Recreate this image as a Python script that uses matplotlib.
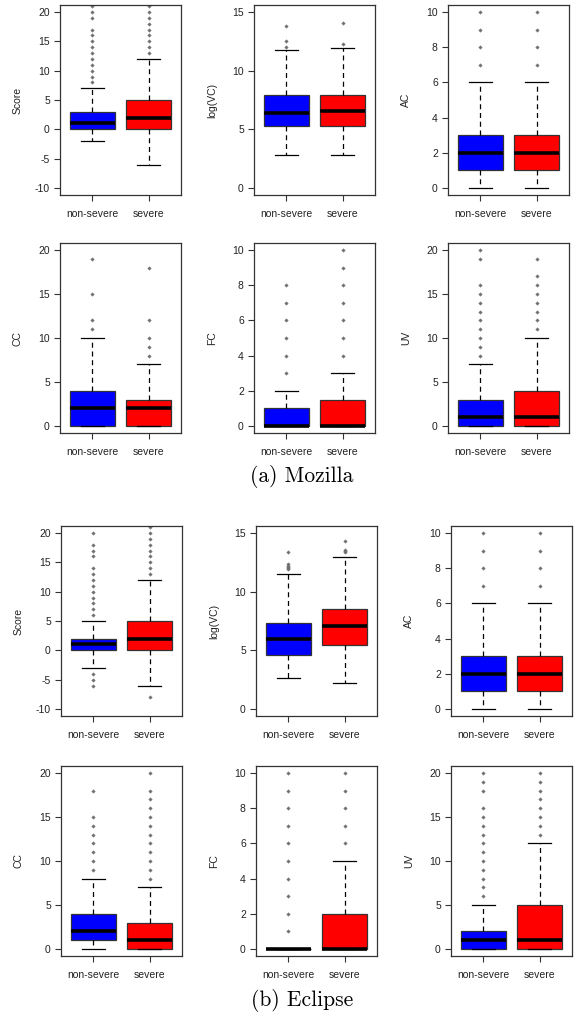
import matplotlib
matplotlib.use("Agg")
import matplotlib.pyplot as plt

# panels, in reading order
metrics = ['Score', 'log(VC)', 'AC', 'CC', 'FC', 'UV']
groups = ['non-severe', 'severe']
base_lims = [(-10, 20), (0, 15), (0, 10), (0, 20), (0, 10), (0, 20)]
yticks = [[-10, -5, 0, 5, 10, 15, 20], [0, 5, 10, 15], [0, 2, 4, 6, 8, 10],
          [0, 5, 10, 15, 20], [0, 2, 4, 6, 8, 10], [0, 5, 10, 15, 20]]

# Mozilla  ([non-severe, severe] for each metric)
moz_q1 = [[0, 0], [5.25, 5.25], [1, 1], [0, 0], [0, 0], [0, 0]]
moz_med = [[1, 2], [6.42, 6.53], [2, 2], [2, 2], [0, 0], [1, 1]]
moz_q3 = [[3, 5], [7.9, 7.96], [3, 3], [4, 3], [1, 1.5], [3, 4]]
moz_lo = [[-2, -6], [2.82, 2.82], [0, 0], [0, 0], [0, 0], [0, 0]]
moz_hi = [[7, 12], [11.8, 11.9], [6, 6], [10, 7], [2, 3], [7, 10]]
moz_fl_ns = [[8, 9, 10, 11, 12, 13, 14, 15, 16, 17, 19, 20, 21],
             [12.03, 12.55, 13.77],
             [7, 8, 9, 10],
             [11, 12, 15, 19],
             [3, 4, 5, 6, 7, 8],
             [8, 9, 10, 11, 12, 13, 14, 15, 16, 19, 20]]
moz_fl_sev = [[13, 14, 15, 16, 17, 18, 19, 20, 21],
              [12.26, 14.03],
              [7, 8, 9, 10],
              [8, 9, 10, 12, 18],
              [4, 5, 6, 7, 8, 9, 10],
              [11, 12, 13, 14, 15, 16, 17, 19]]

# Eclipse
ecl_q1 = [[0, 0], [4.63, 5.47], [1, 1], [1, 0], [0, 0], [0, 0]]
ecl_med = [[1, 2], [5.93, 7.11], [2, 2], [2, 1], [0, 0], [1, 1]]
ecl_q3 = [[2, 5], [7.32, 8.56], [3, 3], [4, 3], [0, 2], [2, 5]]
ecl_lo = [[-3, -6], [2.66, 2.24], [0, 0], [0, 0], [0, 0], [0, 0]]
ecl_hi = [[5, 12], [11.5, 12.97], [6, 6], [8, 7], [0, 5], [5, 12]]
ecl_fl_ns = [[-6, -5, -4, 6, 7, 8, 9, 10, 11, 12, 13, 14, 16, 17, 18, 20],
             [11.9, 12.0, 12.1, 12.2, 12.4, 13.37],
             [7, 8, 9, 10],
             [9, 10, 11, 12, 13, 14, 15, 18],
             [1, 2, 3, 4, 5, 6, 7, 8, 9, 10],
             [6, 7, 8, 9, 10, 11, 12, 13, 14, 15, 16, 18, 19, 20]]
ecl_fl_sev = [[-8, 13, 14, 15, 16, 17, 18, 19, 20, 21],
              [13.35, 13.43, 13.57, 14.28],
              [7, 8, 9, 10],
              [8, 9, 10, 11, 12, 13, 14, 15, 16, 17, 18, 20],
              [6, 7, 8, 9, 10],
              [13, 14, 15, 16, 17, 18, 19, 20]]

plt.rcParams['font.family'] = ['Liberation Sans', 'DejaVu Sans']
plt.rcParams['axes.unicode_minus'] = False

W, H = 579, 1019
fig = plt.figure(figsize=(W / 100, H / 100), dpi=100)
fig.patch.set_facecolor('white')

PW, PH = 121, 190  # panel size in px


def stats_for(q1, med, q3, lo, hi, fl_ns, fl_sev, i):
    out = []
    for g, fl in enumerate([fl_ns[i], fl_sev[i]]):
        out.append(dict(q1=q1[i][g], med=med[i][g], q3=q3[i][g],
                        whislo=lo[i][g], whishi=hi[i][g], fliers=fl))
    return out


def draw_panel(ax, stats, i):
    b = ax.bxp(stats, positions=[1, 2], widths=0.8, capwidths=0.4,
               patch_artist=True,
               boxprops=dict(edgecolor='#333333', linewidth=0.9),
               medianprops=dict(color='black', linewidth=2.6, solid_capstyle='butt'),
               whiskerprops=dict(color='black', linewidth=0.9, linestyle=(0, (4, 3))),
               capprops=dict(color='black', linewidth=0.9),
               flierprops=dict(marker='D', markersize=1.8, markerfacecolor='#707070',
                               markeredgecolor='#707070', markeredgewidth=0.3))
    for patch, c in zip(b['boxes'], ['#0000ff', '#ff0000']):
        patch.set_facecolor(c)
    lo, hi = base_lims[i]
    r = hi - lo
    ax.set_ylim(lo - 0.04 * r, hi + 0.04 * r)
    ax.set_xlim(0.42, 2.58)
    ax.set_yticks(yticks[i])
    ax.set_xticks([1, 2])
    ax.set_xticklabels(groups)
    ax.tick_params(axis='both', labelsize=7.5, length=4.3, width=0.8,
                   color='#333333', labelcolor='#222222', pad=3)
    ax.tick_params(axis='x', pad=6)
    for sp in ax.spines.values():
        sp.set_color('#333333')
        sp.set_linewidth(0.9)
    ax.set_ylabel(metrics[i], fontsize=7.5, color='#222222')
    ax.yaxis.set_label_coords(-37 / PW, 0.5)


moz_rows = [5, 243]
moz_cols = [60, 254, 448]
ecl_rows = [526, 766]
ecl_cols = [61, 256, 451]

for i in range(6):
    r, c = divmod(i, 3)
    ax = fig.add_axes([moz_cols[c] / W, 1 - (moz_rows[r] + PH) / H, PW / W, PH / H])
    draw_panel(ax, stats_for(moz_q1, moz_med, moz_q3, moz_lo, moz_hi,
                             moz_fl_ns, moz_fl_sev, i), i)
    ax = fig.add_axes([ecl_cols[c] / W, 1 - (ecl_rows[r] + PH) / H, PW / W, PH / H])
    draw_panel(ax, stats_for(ecl_q1, ecl_med, ecl_q3, ecl_lo, ecl_hi,
                             ecl_fl_ns, ecl_fl_sev, i), i)

fig.text(302 / W, 1 - 477 / H, '(a) Mozilla', family='cmr10', fontsize=15.5,
         ha='center', va='center')
fig.text(302 / W, 1 - 1000 / H, '(b) Eclipse', family='cmr10', fontsize=15.5,
         ha='center', va='center')

fig.savefig('out.png', dpi=100)
